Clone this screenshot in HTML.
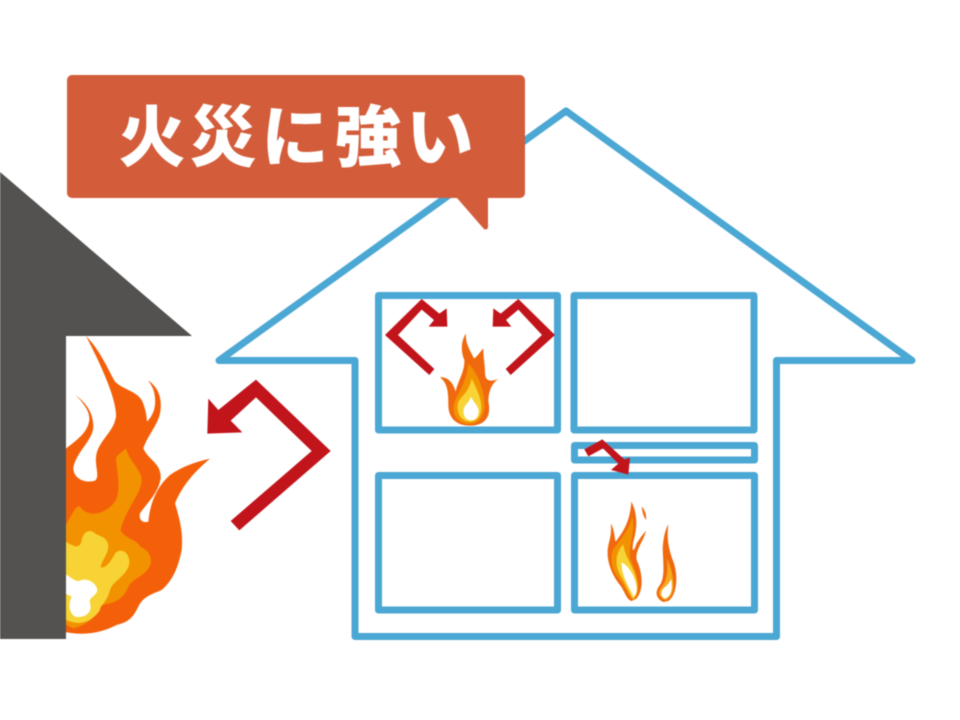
<!DOCTYPE html>
<html lang="ja">
<head>
<meta charset="utf-8">
<style>
html,body{margin:0;padding:0;background:#fff;width:960px;height:720px;overflow:hidden}
svg{display:block;filter:blur(.45px)}
text{font-family:"Liberation Sans","Noto Sans CJK JP",sans-serif;font-weight:900;font-size:67px;fill:#fff;text-anchor:middle}
</style>
</head>
<body>
<svg width="960" height="720" viewBox="0 0 960 720" xmlns="http://www.w3.org/2000/svg">
<defs><clipPath id="c"><rect x="66" y="320" width="300" height="330"/></clipPath></defs>
<rect width="960" height="720" fill="#fff"/>

<!-- neighbouring house -->
<polygon points="0,172 192,336 66,336 66,639 0,639" fill="#535250"/>

<!-- big flame -->
<g clip-path="url(#c)">
<g transform="translate(0,320) scale(.33333)">
<path fill="#f4600a" d="M190,392 C230,360 262,340 268,300 C270,270 245,245 226,224 C250,245 280,270 280,320 C280,360 225,400 220,445 C222,480 260,490 285,482 C300,470 285,440 288,410 C295,360 340,340 348,290 C350,230 290,110 258,48 C300,90 325,150 345,185 C370,210 405,210 425,240 C435,260 440,285 441,305 C465,280 470,250 462,215 C458,200 450,190 445,181 C470,200 485,225 482,265 C480,310 445,340 430,385 C445,420 485,430 482,475 C475,520 440,550 420,580 C415,600 430,610 445,605 C450,550 470,500 510,465 C545,440 590,425 630,416 C590,450 550,490 525,550 C540,600 550,640 545,690 C535,740 520,780 485,810 C450,825 430,830 415,860 C400,890 390,905 350,915 C310,935 260,950 190,935 Z"/>
<path fill="#f39200" d="M190,625 C215,590 225,555 240,560 C260,590 310,590 345,545 C365,510 350,450 348,415 C355,400 370,395 378,385 C385,420 425,450 425,480 C425,520 375,570 362,630 C370,655 415,660 420,680 C440,690 455,700 452,730 C440,770 400,770 385,800 C370,840 340,850 305,855 C290,890 260,915 220,925 L190,910 Z"/>
<path fill="#f7d335" d="M190,660 C220,680 240,690 245,660 C250,635 270,625 285,640 C300,650 320,650 325,675 C325,705 305,720 302,742 C320,745 335,720 345,700 C365,680 390,700 388,730 C380,770 340,780 330,810 C320,850 300,855 300,870 C280,900 240,925 190,895 Z"/>
<path fill="#fff" d="M190,760 C215,770 225,790 245,780 C265,775 290,790 292,810 C290,830 265,830 270,850 C280,880 250,895 225,890 C205,875 205,850 215,830 C205,825 190,820 190,810 Z"/>
</g>
</g>

<!-- big arrow -->
<g transform="translate(0,320) scale(.33333)">
<polygon fill="#c1141b" points="692,603 718,631 992,393 768,179 655,270 625,236 622,341 727,337 692,302 768,232 935,393"/>
</g>

<!-- main house outline -->
<polygon points="566,111 912,360.5 776.5,360.5 776.5,636.5 355,636.5 355,360.5 219,360.5" fill="none" stroke="#4ba7d3" stroke-width="7" stroke-linejoin="round"/>

<!-- rooms -->
<g fill="none" stroke="#4ba7d3" stroke-width="7" stroke-linejoin="round">
<rect x="378.5" y="295.5" width="179" height="134.500"/>
<rect x="574" y="295.5" width="180" height="134.500"/>
<rect x="574.500" y="445.500" width="180" height="14.500"/>
<rect x="378.5" y="475.500" width="179" height="134.500"/>
<rect x="574.500" y="475.500" width="180" height="134.500"/>
</g>

<!-- upper-left room -->
<g transform="translate(370,285) scale(.33333)">
<polygon fill="#c1141b" points="193,252 178,270 45,150 155,42 208,86 230,70 232,125 176,125 192,105 155,74 84,150"/>
<polygon fill="#c1141b" points="407,252 422,270 555,150 445,42 392,86 370,70 368,125 424,125 408,105 445,74 516,150"/>
<path fill="#f0690f" d="M300,422 C255,422 235,395 235,360 C235,330 235,295 210,277 C235,275 250,295 257,320 C262,290 285,260 283,225 C270,195 275,165 288,145 C285,175 300,195 312,220 C322,215 330,200 340,190 C340,220 345,240 345,260 C345,280 350,295 385,282 C365,295 355,320 355,350 C365,395 345,422 300,422Z"/>
<path fill="#f39200" d="M300,417 C262,417 245,390 252,355 C262,325 288,300 295,235 C322,265 342,310 344,360 C342,395 325,417 300,417Z"/>
<path fill="#f7d335" d="M300,410 C272,410 258,382 264,352 C276,330 295,325 305,280 C322,315 336,345 334,372 C332,392 322,410 300,410Z"/>
<path fill="#fff" d="M303,406 C285,406 279,390 281,372 C285,358 298,352 303,335 C310,352 325,362 326,378 C326,395 318,406 303,406Z"/>
</g>

<!-- lower-right room -->
<g transform="translate(565,435) scale(.33333)">
<polygon fill="#c1141b" points="58,43 70,64 114,40 160,86 138,105 190,119 195,68 178,73 112,13"/>
<path fill="#f0690f" d="M200,498 C185,495 180,470 165,450 C145,425 125,385 128,345 C130,320 140,310 138,265 C150,290 148,310 152,320 C175,290 195,260 199,200 C215,230 220,270 205,320 C200,350 205,355 215,325 C225,310 235,295 243,288 C235,320 210,345 215,375 C235,420 235,465 215,490 Z"/>
<path fill="#f39200" d="M203,494 C190,480 180,455 165,435 C143,410 133,380 143,345 C165,315 190,290 202,245 C212,290 190,330 195,370 C218,420 228,460 212,487 Z"/>
<path fill="#f7d335" d="M203,492 C192,470 178,440 163,415 C148,385 153,350 175,328 C180,362 197,385 207,410 C218,440 222,470 209,487 Z"/>
<path fill="#fff" d="M205,484 C196,460 168,425 170,382 C190,392 207,420 213,445 C218,465 214,480 205,484Z"/>
<path fill="#f0690f" d="M230,215 C240,225 245,240 243,255 C235,245 232,230 230,215Z"/>
<path fill="#f0690f" d="M295,501 C273,491 268,470 285,450 C300,425 295,390 293,340 C295,310 300,285 310,268 C305,310 310,340 325,380 C340,420 337,480 310,498Z"/>
<path fill="#f7a81b" d="M298,495 C280,485 278,468 290,455 C310,430 308,400 306,370 C322,405 332,450 320,478 C313,490 305,495 298,495Z"/>
<path fill="#fff" d="M297,490 C284,482 288,466 298,458 C310,448 316,438 318,432 C324,455 320,476 309,486 C304,490 300,491 297,490Z"/>
</g>

<!-- callout -->
<path fill="#d35d3a" d="M72,75 H520 a5,5 0 0 1 5,5 V193 a5,5 0 0 1 -5,5 H488 V227 a2.500,2.500 0 0 1 -4.500,1.500 L457,198 H72 a5,5 0 0 1 -5,-5 V80 a5,5 0 0 1 5,-5Z"/>
<text x="152" y="161">火</text>
<text x="223" y="161">災</text>
<text x="295" y="161">に</text>
<text x="368" y="161">強</text>
<text x="440" y="161">い</text>
</svg>
</body>
</html>
